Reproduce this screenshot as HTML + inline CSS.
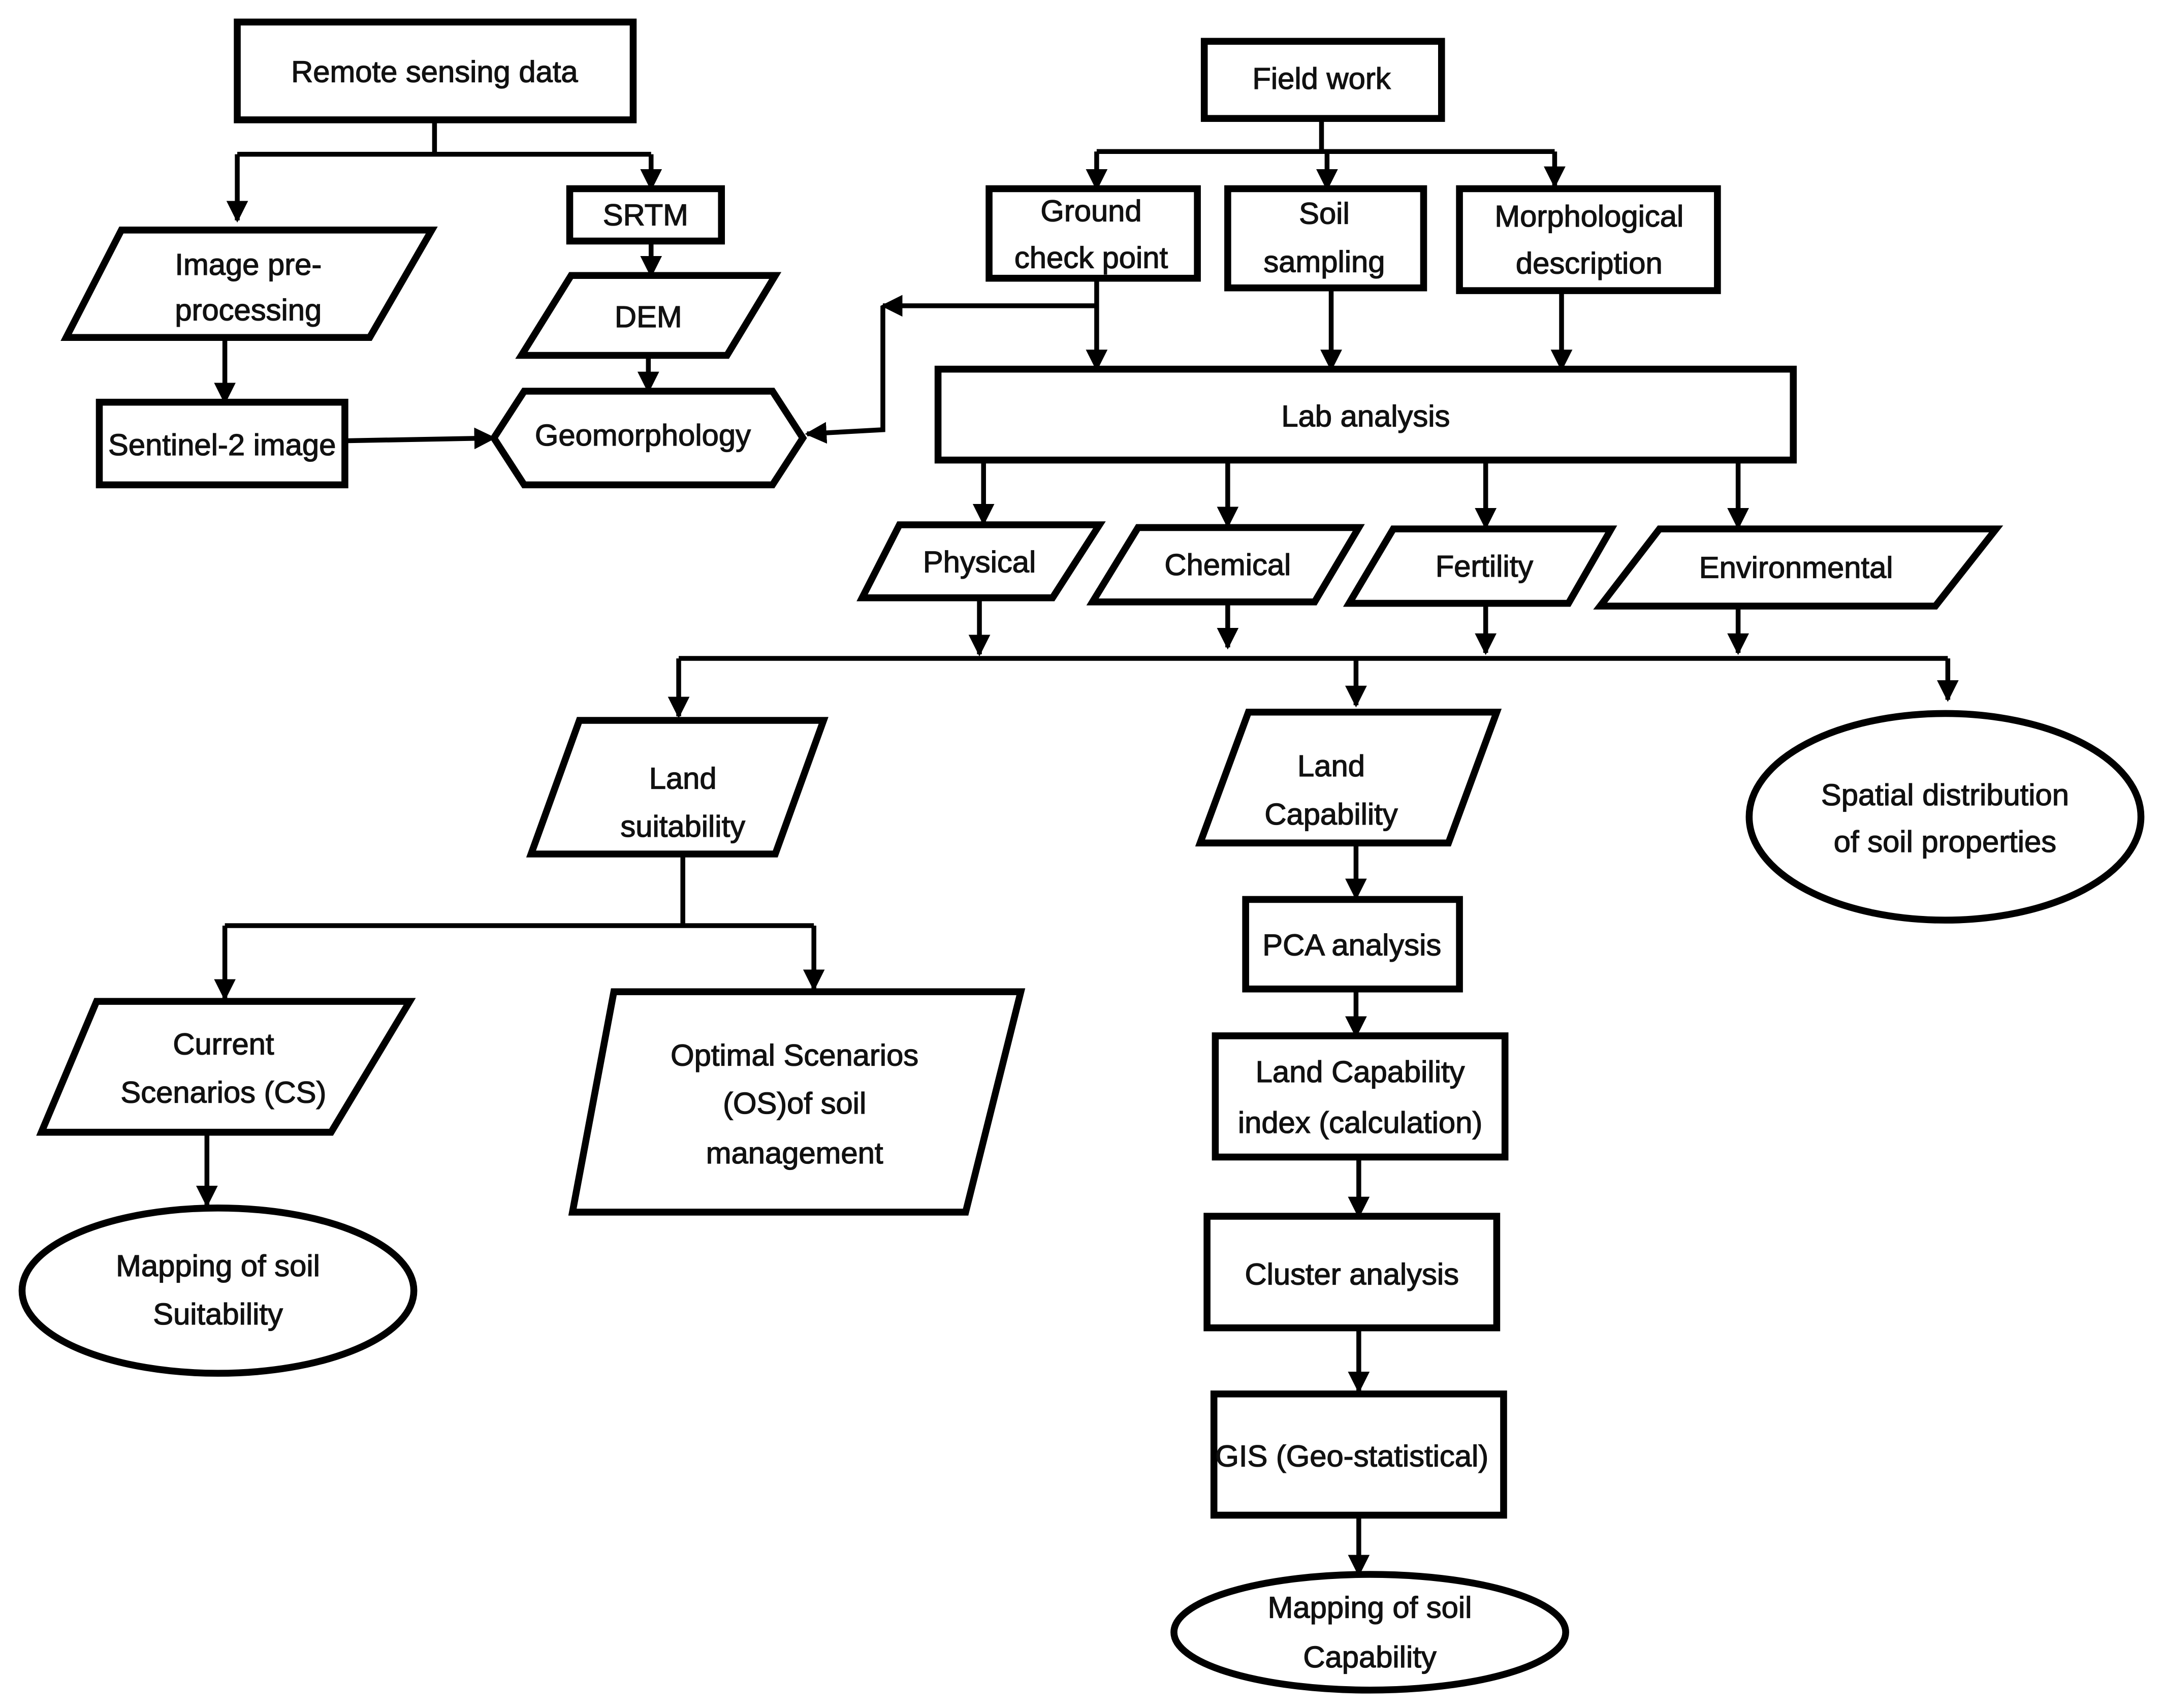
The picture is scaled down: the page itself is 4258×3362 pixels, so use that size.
<!DOCTYPE html>
<html><head><meta charset="utf-8"><style>html,body{margin:0;padding:0;background:#fff}svg{display:block}</style></head><body>
<svg width="4258" height="3362" viewBox="0 0 1568 1240" preserveAspectRatio="none" xmlns="http://www.w3.org/2000/svg">
<defs><marker id="a" viewBox="0 0 10 10" refX="9" refY="5" markerWidth="4.5" markerHeight="4.5" orient="auto" markerUnits="strokeWidth"><path d="M0,0 L10,5 L0,10 z" fill="#000"/></marker></defs>
<g fill="#fff" stroke="#000" stroke-width="5">
<rect x="172" y="16" width="287" height="71"/>
<rect x="413" y="137" width="110" height="38"/>
<polygon points="378,258 414,200 562,200 527,258"/>
<polygon points="358,318 380,284 560,284 582,318 560,352 380,352"/>
<polygon points="48,245 88,167 313,167 268,245"/>
<rect x="72" y="292" width="178" height="60"/>
<rect x="873" y="30" width="172" height="56"/>
<rect x="717" y="137" width="151" height="65"/>
<rect x="890" y="137" width="142" height="72"/>
<rect x="1058" y="137" width="187" height="74"/>
<rect x="680" y="268" width="620" height="66"/>
<polygon points="625,434 652,381 797,381 763,434"/>
<polygon points="792,437 825,383 985,383 953,437"/>
<polygon points="978,438 1010,384 1168,384 1137,438"/>
<polygon points="1160,440 1203,384 1447,384 1403,440"/>
<polygon points="385,620 420,523 597,523 562,620"/>
<polygon points="30,822 70,727 297,727 240,822"/>
<ellipse cx="158" cy="937" rx="142" ry="60"/>
<polygon points="415,880 445,720 740,720 700,880"/>
<polygon points="870,612 905,517 1085,517 1050,612"/>
<ellipse cx="1410" cy="593" rx="142" ry="75"/>
<rect x="903" y="653" width="155" height="65"/>
<rect x="881" y="752" width="210" height="88"/>
<rect x="875" y="883" width="210" height="81"/>
<rect x="880" y="1012" width="210" height="88"/>
<ellipse cx="993" cy="1185" rx="142" ry="42"/>
</g>
<g fill="none" stroke="#000" stroke-width="3.5">
<path d="M315,87 V112 M172,112 H472"/>
<path d="M172,112 V160" marker-end="url(#a)"/>
<path d="M472,112 V137" marker-end="url(#a)"/>
<path d="M472,175 V200" marker-end="url(#a)"/>
<path d="M470,258 V284" marker-end="url(#a)"/>
<path d="M163,245 V292" marker-end="url(#a)"/>
<path d="M250,320 L358,318" marker-end="url(#a)"/>
<path d="M958,86 V110 M795,110 H1127"/>
<path d="M795,110 V137" marker-end="url(#a)"/>
<path d="M962,110 V137" marker-end="url(#a)"/>
<path d="M1127,110 V135" marker-end="url(#a)"/>
<path d="M795,202 V268" marker-end="url(#a)"/>
<path d="M965,209 V268" marker-end="url(#a)"/>
<path d="M1132,211 V268" marker-end="url(#a)"/>
<path d="M795,222 H640" marker-end="url(#a)"/>
<path d="M640,222 V312 L585,315" marker-end="url(#a)"/>
<path d="M713,334 V380" marker-end="url(#a)"/>
<path d="M890,334 V382" marker-end="url(#a)"/>
<path d="M1077,334 V383" marker-end="url(#a)"/>
<path d="M1260,334 V383" marker-end="url(#a)"/>
<path d="M710,434 V475" marker-end="url(#a)"/>
<path d="M890,437 V470" marker-end="url(#a)"/>
<path d="M1077,438 V474" marker-end="url(#a)"/>
<path d="M1260,440 V474" marker-end="url(#a)"/>
<path d="M492,478 H1412"/>
<path d="M492,478 V520" marker-end="url(#a)"/>
<path d="M983,478 V512" marker-end="url(#a)"/>
<path d="M1412,478 V508" marker-end="url(#a)"/>
<path d="M495,620 V672 M163,672 H590"/>
<path d="M163,672 V725" marker-end="url(#a)"/>
<path d="M590,672 V718" marker-end="url(#a)"/>
<path d="M150,822 V875" marker-end="url(#a)"/>
<path d="M983,612 V652" marker-end="url(#a)"/>
<path d="M983,718 V752" marker-end="url(#a)"/>
<path d="M985,840 V883" marker-end="url(#a)"/>
<path d="M985,964 V1010" marker-end="url(#a)"/>
<path d="M985,1100 V1143" marker-end="url(#a)"/>
</g>
<g font-family="'Liberation Sans Narrow','Liberation Sans',sans-serif" font-size="22" text-anchor="middle" fill="#111" stroke="#111" stroke-width="0.5" dominant-baseline="central">
<text x="315" y="52">Remote sensing data</text>
<text x="468" y="156">SRTM</text>
<text x="470" y="230">DEM</text>
<text x="466" y="316">Geomorphology</text>
<text x="180" y="192">Image pre-</text><text x="180" y="225">processing</text>
<text x="161" y="323">Sentinel-2 image</text>
<text x="958" y="57">Field work</text>
<text x="791" y="153">Ground</text><text x="791" y="187">check point</text>
<text x="960" y="155">Soil</text><text x="960" y="190">sampling</text>
<text x="1152" y="157">Morphological</text><text x="1152" y="191">description</text>
<text x="990" y="302">Lab analysis</text>
<text x="710" y="408">Physical</text>
<text x="890" y="410">Chemical</text>
<text x="1076" y="411">Fertility</text>
<text x="1302" y="412">Environmental</text>
<text x="495" y="565">Land</text><text x="495" y="600">suitability</text>
<text x="162" y="758">Current</text><text x="162" y="793">Scenarios (CS)</text>
<text x="158" y="919">Mapping of soil</text><text x="158" y="954">Suitability</text>
<text x="576" y="766">Optimal Scenarios</text><text x="576" y="801">(OS)of soil</text><text x="576" y="837">management</text>
<text x="965" y="556">Land</text><text x="965" y="591">Capability</text>
<text x="1410" y="577">Spatial distribution</text><text x="1410" y="611">of soil properties</text>
<text x="980" y="686">PCA analysis</text>
<text x="986" y="778">Land Capability</text><text x="986" y="815">index (calculation)</text>
<text x="980" y="925">Cluster analysis</text>
<text x="980" y="1057">GIS (Geo-statistical)</text>
<text x="993" y="1167">Mapping of soil</text><text x="993" y="1203">Capability</text>
</g>
</svg>
</body></html>
